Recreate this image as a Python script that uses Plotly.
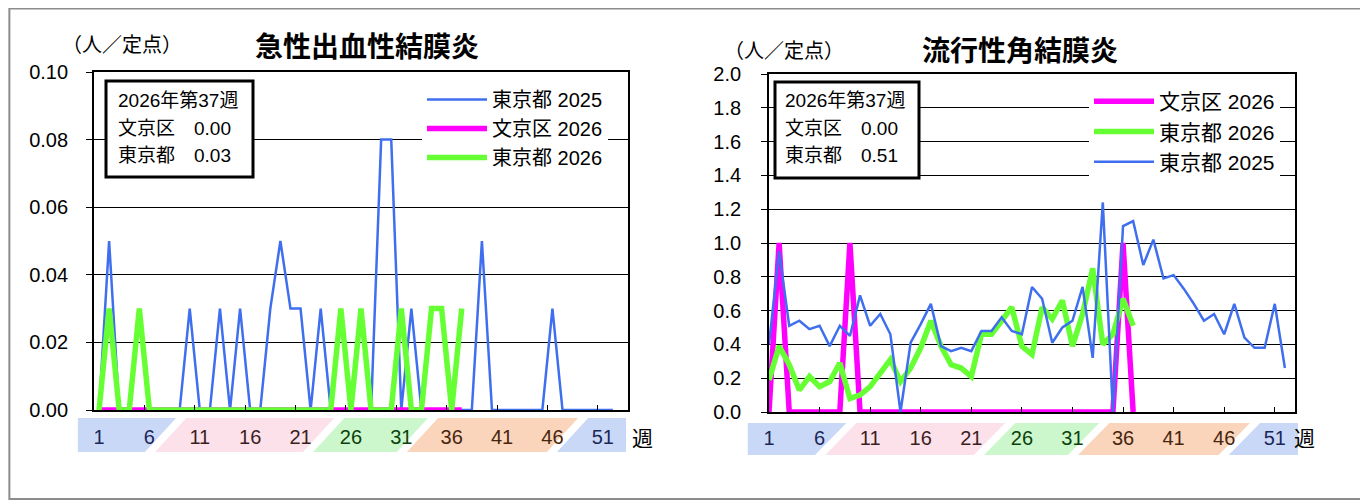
import plotly.graph_objects as go

W, H = 1368, 500
OFF = 8  # the page body margin pushes the figure 8px right and down

# weeks
weeks_2025 = list(range(1, 53))
weeks_2026 = list(range(1, 38))

# 急性出血性結膜炎 (人/定点)
ahc_tokyo_2025 = [0, 0.05, 0, 0, 0, 0, 0, 0, 0, 0.03,
                  0, 0, 0.03, 0, 0.03, 0, 0, 0.03, 0.05, 0.03,
                  0.03, 0, 0.03, 0, 0, 0, 0, 0, 0.08, 0.08,
                  0, 0.03, 0, 0, 0, 0, 0, 0, 0.05, 0,
                  0, 0, 0, 0, 0, 0.03, 0, 0, 0, 0,
                  0, 0]
ahc_bunkyo_2026 = [0] * 37
ahc_tokyo_2026 = [0, 0.03, 0, 0, 0.03, 0, 0, 0, 0, 0,
                  0, 0, 0, 0, 0, 0, 0, 0, 0, 0,
                  0, 0, 0, 0, 0.03, 0, 0.03, 0, 0, 0,
                  0.03, 0, 0, 0.03, 0.03, 0, 0.03]

# 流行性角結膜炎 (人/定点)
ekc_tokyo_2025 = [0.40, 0.95, 0.51, 0.54, 0.49, 0.51, 0.39, 0.51, 0.45, 0.69,
                  0.51, 0.58, 0.46, 0.00, 0.41, 0.52, 0.64, 0.39, 0.36, 0.38,
                  0.36, 0.48, 0.48, 0.56, 0.48, 0.46, 0.74, 0.67, 0.41, 0.50,
                  0.54, 0.74, 0.32, 1.24, 0.00, 1.10, 1.13, 0.87, 1.02, 0.79,
                  0.81, 0.73, 0.64, 0.54, 0.58, 0.46, 0.64, 0.44, 0.38, 0.38,
                  0.64, 0.26]
ekc_bunkyo_2026 = [0, 1.0, 0, 0, 0, 0, 0, 0, 1.0, 0,
                   0, 0, 0, 0, 0, 0, 0, 0, 0, 0,
                   0, 0, 0, 0, 0, 0, 0, 0, 0, 0,
                   0, 0, 0, 0, 0, 1.0, 0]
ekc_tokyo_2026 = [0.19, 0.39, 0.28, 0.13, 0.21, 0.15, 0.18, 0.29, 0.08, 0.10,
                  0.15, 0.23, 0.31, 0.18, 0.26, 0.38, 0.54, 0.39, 0.28, 0.26,
                  0.21, 0.46, 0.46, 0.54, 0.62, 0.39, 0.34, 0.62, 0.55, 0.66,
                  0.39, 0.58, 0.85, 0.40, 0.46, 0.67, 0.51]

tick_weeks = [1, 6, 11, 16, 21, 26, 31, 36, 41, 46, 51]
# season bands under the x axis: edges in weeks, fill, label colour
band_edges = [-1.1, 7.6, 23.3, 32.6, 47.5, 53.3]
band_fill = ['#C9D8F7', '#FDE1EA', '#CCF7CC', '#FAD5BC', '#C9D8F7']
band_text = ['#1B2757', '#3B1E1E', '#0B420B', '#47250C', '#1B2757']

BLUE = '#3F6FEF'
MAGENTA = '#FF00FF'
GREEN = '#66FF33'
JP = 'Liberation Sans, Noto Sans CJK JP'

# plot area rectangles in screen pixels, x range
left_box = dict(l=94, r=628, t=72, b=410, xr=[0.5, 53.5])
right_box = dict(l=769, r=1295, t=74, b=412, xr=[1, 53])

FW, FH = W - OFF, H - OFF


def px(x):
    return (x - OFF) / FW


def py(y):
    return 1 - (y - OFF) / FH


def week_px(box, w):
    r0, r1 = box['xr']
    return box['l'] + (w - r0) / (r1 - r0) * (box['r'] - box['l'])


def band_color(w):
    for i in range(len(band_fill)):
        if band_edges[i] <= w < band_edges[i + 1]:
            return band_text[i]
    return '#000000'


tick_text = ['<span style="color:%s">%d</span>' % (band_color(w), w) for w in tick_weeks]

fig = go.Figure()

# left chart
fig.add_trace(go.Scatter(x=weeks_2025, y=ahc_tokyo_2025, name='東京都 2025',
                         mode='lines', line=dict(color=BLUE, width=2.5),
                         xaxis='x', yaxis='y', legend='legend'))
fig.add_trace(go.Scatter(x=weeks_2026, y=ahc_bunkyo_2026, name='文京区 2026',
                         mode='lines', line=dict(color=MAGENTA, width=5.5),
                         xaxis='x', yaxis='y', legend='legend'))
fig.add_trace(go.Scatter(x=weeks_2026, y=ahc_tokyo_2026, name='東京都 2026',
                         mode='lines', line=dict(color=GREEN, width=5.5),
                         xaxis='x', yaxis='y', legend='legend'))

# right chart
fig.add_trace(go.Scatter(x=weeks_2026, y=ekc_bunkyo_2026, name='文京区 2026',
                         mode='lines', line=dict(color=MAGENTA, width=5.5),
                         xaxis='x2', yaxis='y2', legend='legend2'))
fig.add_trace(go.Scatter(x=weeks_2026, y=ekc_tokyo_2026, name='東京都 2026',
                         mode='lines', line=dict(color=GREEN, width=5.5),
                         xaxis='x2', yaxis='y2', legend='legend2'))
fig.add_trace(go.Scatter(x=weeks_2025, y=ekc_tokyo_2025, name='東京都 2025',
                         mode='lines', line=dict(color=BLUE, width=2.5),
                         xaxis='x2', yaxis='y2', legend='legend2'))

tickfont = dict(family=JP, size=20, color='#000000')


def xaxis_opts(box, standoff):
    return dict(domain=[px(box['l']), px(box['r'])], range=box['xr'], automargin=False,
                tickmode='array', tickvals=tick_weeks, ticktext=tick_text,
                ticks='', showgrid=False, zeroline=False,
                showline=True, linecolor='#000000', linewidth=1.5, mirror=True,
                tickfont=tickfont, ticklabelstandoff=standoff)


def yaxis_opts(box, rng, dtick, fmt, standoff):
    return dict(domain=[py(box['b']), py(box['t'])], range=rng, dtick=dtick, automargin=False,
                tickformat=fmt, ticks='outside', ticklen=6, tickcolor='#000000',
                showgrid=True, gridcolor='#000000', gridwidth=1.2, zeroline=False,
                showline=True, linecolor='#000000', linewidth=1.8, mirror=True,
                tickfont=tickfont, ticklabelstandoff=standoff)


legend_common = dict(bgcolor='#FFFFFF', borderwidth=0, itemwidth=60,
                     xanchor='left', yanchor='top', tracegroupgap=0,
                     itemclick=False)

fig.update_layout(
    width=FW, height=FH,
    margin=dict(l=0, r=0, t=0, b=0, autoexpand=False),
    paper_bgcolor='#FFFFFF', plot_bgcolor='#FFFFFF',
    xaxis=xaxis_opts(left_box, 8),
    yaxis=yaxis_opts(left_box, [0, 0.1], 0.02, '.2f', 14),
    xaxis2=dict(xaxis_opts(right_box, 7), anchor='y2'),
    yaxis2=dict(yaxis_opts(right_box, [0, 2.0], 0.2, '.1f', 16), anchor='x2'),
    # overlay axes only for the small inside tick marks
    xaxis3=dict(overlaying='x', anchor='y', range=left_box['xr'], automargin=False,
                tickmode='array', tickvals=[w - 0.5 for w in tick_weeks[1:]],
                ticks='inside', ticklen=5, tickcolor='#000000',
                showticklabels=False, showgrid=False, zeroline=False),
    xaxis4=dict(overlaying='x2', anchor='y2', range=right_box['xr'], automargin=False,
                tickmode='array', tickvals=tick_weeks,
                ticks='inside', ticklen=5, tickcolor='#000000',
                showticklabels=False, showgrid=False, zeroline=False),
    legend=dict(legend_common, x=px(422), y=py(80),
                font=dict(family=JP, size=20, color='#000000')),
    legend2=dict(legend_common, x=px(1089), y=py(81),
                 font=dict(family=JP, size=21, color='#000000')),
    showlegend=True,
)

# invisible helper traces so the overlay axes get drawn
fig.add_trace(go.Scatter(x=[1], y=[0], xaxis='x3', yaxis='y', mode='lines',
                         showlegend=False, hoverinfo='skip', line=dict(width=0)))
fig.add_trace(go.Scatter(x=[1], y=[0], xaxis='x4', yaxis='y2', mode='lines',
                         showlegend=False, hoverinfo='skip', line=dict(width=0)))

shapes = []
annotations = []


def note(text, x, y, size, family=JP, xanchor='center'):
    annotations.append(dict(text=text, x=px(x), y=py(y), xref='paper', yref='paper',
                            xanchor=xanchor, yanchor='middle', showarrow=False,
                            font=dict(family=family, size=size, color='#000000')))


# outer frame
shapes.append(dict(type='rect', xref='paper', yref='paper', x0=0.001, x1=px(W - 1),
                   y0=py(H - 1), y1=0.999, line=dict(color='#8C8C8C', width=2)))

for box, top, bottom, label_x, label_y in [(left_box, 418, 452, 642, 438),
                                          (right_box, 423, 455, 1304, 438)]:
    slant = 1.55
    gap = 0.5
    for i in range(len(band_fill)):
        a, b = band_edges[i], band_edges[i + 1]
        if i == 0:
            tl = bl = week_px(box, a)
        else:
            tl = week_px(box, a + gap + slant)
            bl = week_px(box, a + gap - slant)
        if i == len(band_fill) - 1:
            tr = br = week_px(box, b)
        else:
            tr = week_px(box, b - gap + slant)
            br = week_px(box, b - gap - slant)
        path = 'M %f,%f L %f,%f L %f,%f L %f,%f Z' % (
            px(tl), py(top), px(tr), py(top), px(br), py(bottom), px(bl), py(bottom))
        shapes.append(dict(type='path', path=path, xref='paper', yref='paper',
                           fillcolor=band_fill[i], line=dict(width=0), layer='below'))
    note('週', label_x, label_y, 21)

# info boxes
info = [((106, 253, 81, 177), 116, ahc_bunkyo_2026, ahc_tokyo_2026),
        ((775, 919, 82, 178), 783, ekc_bunkyo_2026, ekc_tokyo_2026)]
for (x0, x1, y0, y1), tx, bunkyo, tokyo in info:
    shapes.append(dict(type='rect', xref='paper', yref='paper', x0=px(x0), x1=px(x1),
                       y0=py(y1), y1=py(y0), fillcolor='#FFFFFF',
                       line=dict(color='#000000', width=3)))
    lines = ['2026年第%d週' % len(tokyo),
             '文京区\u3000%.2f' % bunkyo[-1],
             '東京都\u3000%.2f' % tokyo[-1]]
    for k, t in enumerate(lines):
        note(t, tx, 101 + 27 * k, 19, xanchor='left')

# titles and unit labels
note('<b>急性出血性結膜炎</b>', 367, 45, 28, family='Noto Sans CJK JP')
note('<b>流行性角結膜炎</b>', 1020, 49, 28, family='Noto Sans CJK JP')
note('（人／定点）', 122, 45, 20)
note('（人／定点）', 784, 51, 20)

fig.update_layout(shapes=shapes, annotations=annotations)

fig.write_html("out.html")
